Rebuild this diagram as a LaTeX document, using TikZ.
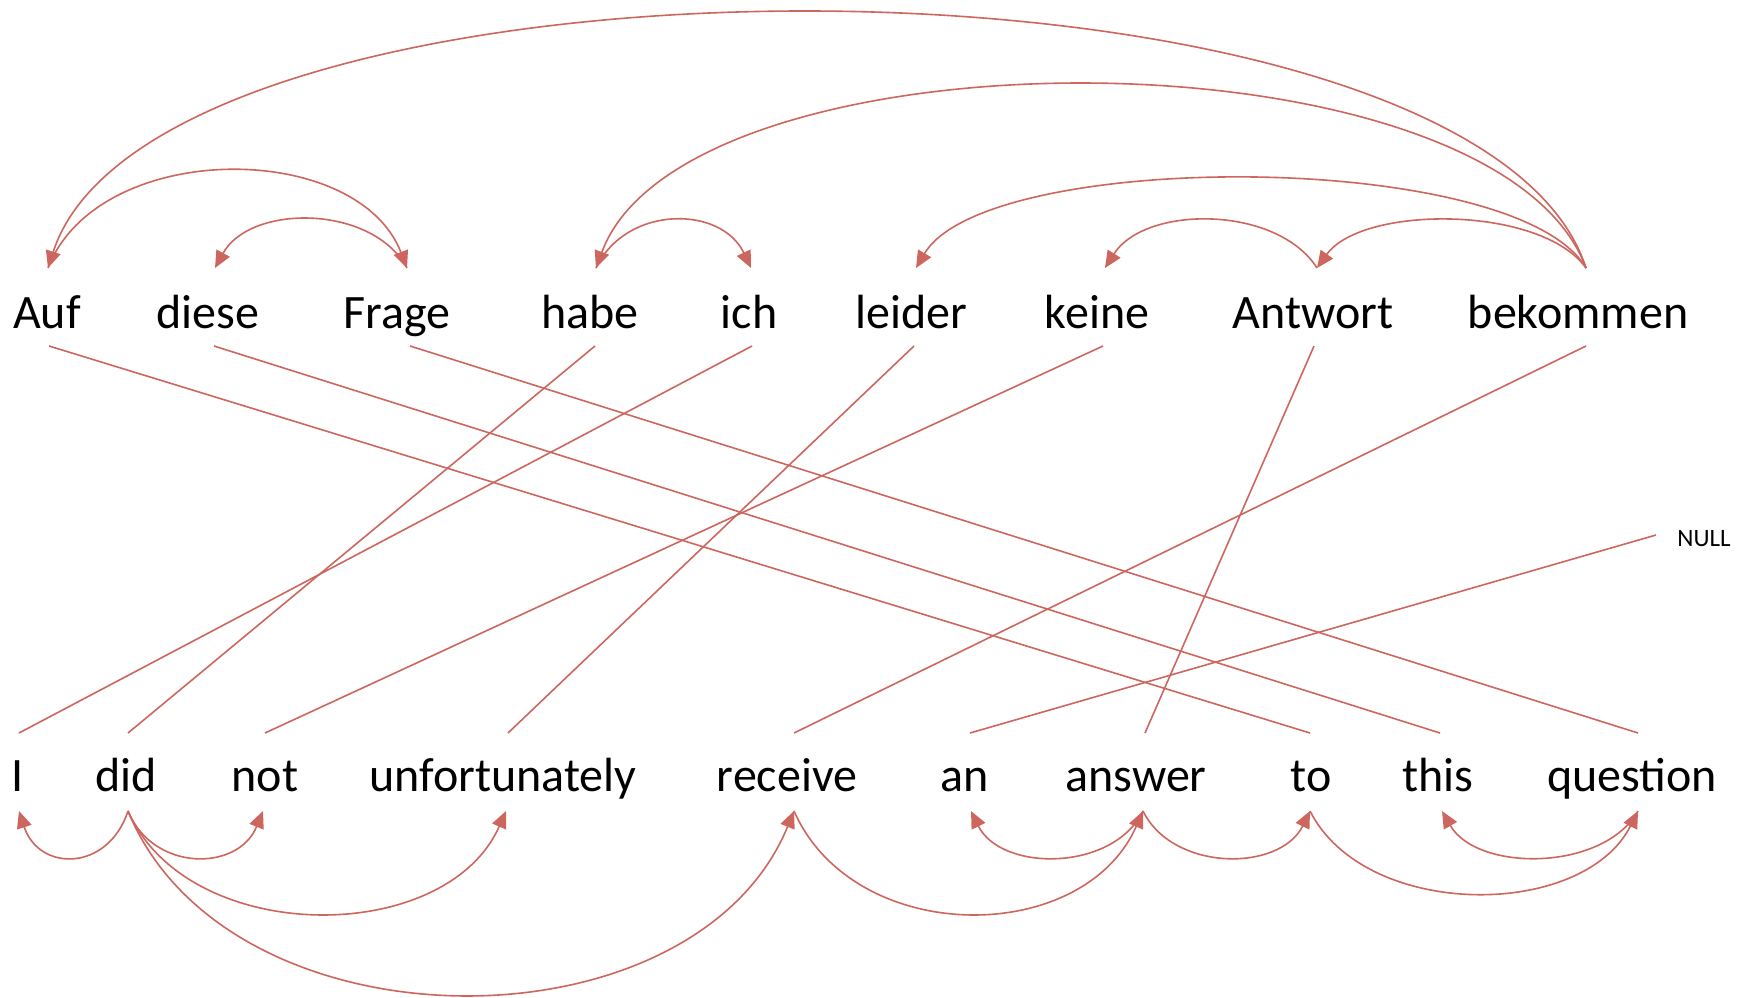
\documentclass[tikz,border=0pt]{standalone}
\usepackage{fontspec}
\setmainfont{Carlito}
\usetikzlibrary{arrows.meta}
\definecolor{arcc}{RGB}{204,102,94}
\begin{document}
\begin{tikzpicture}[x=1pt,y=-1pt,
  word/.style={anchor=base,inner sep=0pt,font=\fontsize{48}{58}\selectfont},
  small/.style={anchor=base,inner sep=0pt,font=\fontsize{25}{30}\selectfont},
  dep/.style={draw=arcc,line width=1.6pt,-{Triangle[length=17pt,width=15pt]}},
  aln/.style={draw=arcc,line width=1.6pt}]
\useasboundingbox (0,0) rectangle (1750,997);
% German words
\node[word] (Auf) at (47,328) {Auf};
\node[word] (diese) at (208,328) {diese};
\node[word] (Frage) at (397,328) {Frage};
\node[word] (habe) at (590,328) {habe};
\node[word] (ich) at (749,328) {ich};
\node[word] (leider) at (911,328) {leider};
\node[word] (keine) at (1097,328) {keine};
\node[word] (Antwort) at (1313,328) {Antwort};
\node[word] (bekommen) at (1578,328) {bekommen};
% English words
\node[word] (I) at (18,791) {I};
\node[word] (did) at (126,791) {did};
\node[word] (not) at (265,791) {not};
\node[word] (unfortunately) at (503,791) {unfortunately};
\node[word] (receive) at (787,791) {receive};
\node[word] (an) at (965,791) {an};
\node[word] (answer) at (1136,791) {answer};
\node[word] (to) at (1311,791) {to};
\node[word] (this) at (1438,791) {this};
\node[word] (question) at (1632,791) {question};
\node[small] (NULL) at (1704,546) {NULL};
% attachment points, top words
\coordinate (Auf-n) at (48,268);      \coordinate (Auf-s) at (49,346);
\coordinate (diese-n) at (215,268);   \coordinate (diese-s) at (214,346);
\coordinate (Frage-n) at (407,268);   \coordinate (Frage-s) at (410,346);
\coordinate (habe-n) at (596,268);    \coordinate (habe-s) at (595,346);
\coordinate (ich-n) at (751,268);     \coordinate (ich-s) at (752,346);
\coordinate (leider-n) at (916,268);  \coordinate (leider-s) at (914,346);
\coordinate (keine-n) at (1105,268);  \coordinate (keine-s) at (1103,346);
\coordinate (Antwort-n) at (1317,268);\coordinate (Antwort-s) at (1314,346);
\coordinate (bekommen-n) at (1586,268);\coordinate (bekommen-s) at (1586,346);
% attachment points, bottom words
\coordinate (I-n) at (19,733);        \coordinate (I-s) at (19,811);
\coordinate (did-n) at (128,733);     \coordinate (did-s) at (128,811);
\coordinate (not-n) at (265,733);     \coordinate (not-s) at (263,811);
\coordinate (unfortunately-n) at (508,733); \coordinate (unfortunately-s) at (506,811);
\coordinate (receive-n) at (794,733); \coordinate (receive-s) at (794,811);
\coordinate (an-n) at (970,733);      \coordinate (an-s) at (971,811);
\coordinate (answer-n) at (1145,733); \coordinate (answer-s) at (1143,811);
\coordinate (to-n) at (1310,733);     \coordinate (to-s) at (1310,811);
\coordinate (this-n) at (1440,733);   \coordinate (this-s) at (1442,811);
\coordinate (question-n) at (1638,733); \coordinate (question-s) at (1638,811);
\coordinate (NULL-w) at (1656,535);
% alignment lines
\draw[aln] (Auf-s) -- (to-n);
\draw[aln] (diese-s) -- (this-n);
\draw[aln] (Frage-s) -- (question-n);
\draw[aln] (habe-s) -- (did-n);
\draw[aln] (ich-s) -- (I-n);
\draw[aln] (leider-s) -- (unfortunately-n);
\draw[aln] (keine-s) -- (not-n);
\draw[aln] (Antwort-s) -- (answer-n);
\draw[aln] (bekommen-s) -- (receive-n);
\draw[aln] (NULL-w) -- (an-n);
% German dependency arcs
\draw[dep] (bekommen-n) .. controls +(-110,-340) and +(110,-340) .. (Auf-n);
\draw[dep] (bekommen-n) .. controls +(-90,-244) and +(90,-244) .. (habe-n);
\draw[dep] (bekommen-n) .. controls +(-70,-119) and +(70,-119) .. (leider-n);
\draw[dep] (bekommen-n) .. controls +(-45,-63) and +(45,-63) .. (Antwort-n);
\draw[dep] (Antwort-n) .. controls +(-40,-63) and +(40,-63) .. (keine-n);
\draw[dep] (Auf-n) .. controls +(50,-129) and +(-50,-129) .. (Frage-n);
\draw[dep] (Frage-n) .. controls +(-35,-64) and +(35,-64) .. (diese-n);
\draw[dep] (habe-n) .. controls +(30,-63) and +(-30,-63) .. (ich-n);
% English dependency arcs
\draw[dep] (did-s) .. controls +(-20,61) and +(20,61) .. (I-s);
\draw[dep] (did-s) .. controls +(25,61) and +(-25,61) .. (not-s);
\draw[dep] (did-s) .. controls +(60,136) and +(-60,136) .. (unfortunately-s);
\draw[dep] (did-s) .. controls +(100,244) and +(-100,244) .. (receive-s);
\draw[dep] (receive-s) .. controls +(60,136) and +(-60,136) .. (answer-s);
\draw[dep] (answer-s) .. controls +(-30,61) and +(30,61) .. (an-s);
\draw[dep] (answer-s) .. controls +(30,61) and +(-30,61) .. (to-s);
\draw[dep] (to-s) .. controls +(55,109) and +(-55,109) .. (question-s);
\draw[dep] (question-s) .. controls +(-35,61) and +(35,61) .. (this-s);
\end{tikzpicture}
\end{document}
